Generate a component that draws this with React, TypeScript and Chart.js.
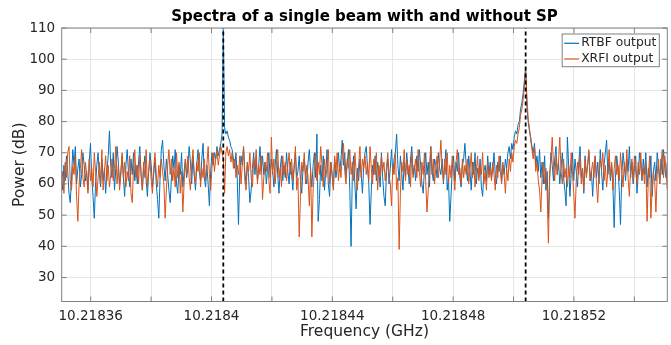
import { useEffect, useRef } from "react";
import { Chart, registerables } from "chart.js";

Chart.register(...registerables);

const chartTitle = "Spectra of a single beam with and without SP";
const xAxisLabel = "Frequency (GHz)";
const yAxisLabel = "Power (dB)";
const seriesLabels = ["RTBF output", "XRFI output"];
const seriesColors = ["#0072BD", "#D95319"];

// frequency grid of the spectrum samples (GHz)
const freqStart = 10.2183503;
const freqStep = 4.188e-7;

const rtbfPower = [
  63, 58, 66, 61, 69, 64, 57, 54, 62, 71, 66, 72, 60, 65, 68, 59, 63, 70, 66, 61,
  64, 58, 67, 73, 62, 56, 49, 60, 66, 70, 63, 59, 68, 61, 65, 57, 64, 69, 77, 66,
  62, 70, 58, 65, 72, 67, 60, 64, 69, 62, 56, 66, 71, 64, 59, 68, 63, 70, 61, 66,
  60, 67, 72, 63, 58, 65, 69, 61, 56, 64, 70, 66, 59, 63, 68, 60, 55, 49, 62, 71,
  74, 66, 61, 68, 63, 58, 54, 62, 69, 65, 71, 60, 57, 66, 63, 70, 59, 64, 68, 62,
  65, 72, 67, 60, 69, 63, 58, 66, 71, 64, 61, 68, 73, 62, 59, 66, 60, 53, 64, 70,
  66, 70, 68, 72, 69, 71, 73, 76, 109.5, 78, 76, 77, 75, 74, 72, 71, 68, 65, 70, 62,
  47, 63, 69, 66, 72, 64, 60, 67, 62, 54, 58, 65, 70, 63, 68, 61, 66, 72, 64, 69,
  63, 67, 60, 65, 70, 62, 68, 64, 59, 66, 71, 63, 57, 65, 69, 61, 66, 62, 70, 64,
  60, 67, 63, 58, 66, 70, 62, 64, 69, 61, 57, 65, 68, 63, 60, 67, 71, 64, 59, 66,
  70, 62, 76, 48, 55, 66, 61, 69, 58, 64, 71, 60, 56, 67, 63, 59, 68, 62, 65, 70,
  64, 68, 74, 66, 70, 62, 67, 71, 58, 40, 63, 69, 60, 52, 65, 61, 68, 63, 57, 66,
  70, 72, 65, 60, 47, 58, 66, 63, 69, 61, 67, 64, 59, 70, 62, 56, 53, 64, 68, 60,
  65, 71, 63, 68, 70, 76, 66, 61, 69, 64, 58, 67, 62, 70, 65, 60, 68, 72, 63, 66,
  61, 69, 64, 71, 66, 60, 57, 65, 70, 63, 67, 59, 72, 64, 61, 68, 66, 62, 70, 65,
  63, 68, 60, 66, 71, 58, 62, 48, 56, 65, 69, 61, 67, 64, 70, 62, 59, 66, 68, 73,
  66, 61, 69, 64, 58, 67, 63, 70, 60, 65, 62, 68, 59, 56, 64, 66, 61, 69, 63, 67,
  62, 65, 70, 63, 60, 67, 64, 69, 61, 66, 63, 68, 65, 70, 72, 68, 73, 71, 75, 77,
  76, 79, 80, 84, 86, 89, 93, 97.5, 85, 80, 77, 75, 72, 70, 73, 66, 69, 64, 71, 62,
  67, 60, 69, 58, 64, 49, 62, 70, 66, 61, 68, 72, 63, 67, 60, 65, 70, 62, 58, 53,
  75, 66, 56, 63, 70, 61, 68, 64, 59, 67, 72, 62, 65, 57, 69, 63, 66, 70, 61, 64,
  56, 65, 69, 62, 67, 60, 71, 64, 58, 66, 70, 74, 63, 68, 61, 66, 59, 46, 62, 69,
  65, 58, 47, 63, 70, 66, 61, 68, 64, 72, 62, 67, 60, 65, 69, 57, 63, 70, 66, 61,
  68, 63, 70, 59, 65, 62, 69, 56, 64, 67, 61, 70, 66, 60, 68, 63, 71, 65, 62, 67,
];

const xrfiPower = [
  60, 64, 57, 67, 62, 70, 72, 61, 58, 66, 63, 69, 56, 48, 60, 65, 71, 62, 59, 67,
  63, 57, 68, 61, 65, 59, 70, 64, 56, 62, 67, 60, 71, 58, 64, 69, 61, 66, 59, 63,
  68, 61, 65, 72, 60, 66, 58, 63, 70, 62, 67, 59, 64, 61, 69, 57, 54, 65, 71, 62,
  66, 60, 69, 63, 58, 67, 62, 71, 59, 64, 68, 61, 57, 65, 70, 63, 59, 66, 62, 68,
  64, 60, 49, 58, 66, 71, 63, 68, 61, 65, 59, 70, 62, 67, 57, 64, 51, 60, 68, 63,
  69, 62, 58, 66, 71, 63, 60, 67, 64, 70, 59, 65, 62, 68, 61, 66, 72, 63, 58, 65,
  70, 64, 68, 71, 66, 69, 72, 70, 68, 57, 70, 72, 69, 71, 67, 70, 65, 68, 62, 66,
  63, 69, 60, 66, 72, 61, 58, 67, 64, 70, 62, 59, 68, 65, 71, 60, 66, 63, 69, 55,
  62, 67, 64, 70, 61, 57, 75, 63, 68, 60, 66, 71, 62, 65, 59, 69, 63, 67, 61, 66,
  70, 63, 68, 61, 65, 72, 58, 62, 43, 56, 67, 64, 70, 60, 66, 62, 53, 65, 43, 58,
  64, 70, 61, 67, 63, 72, 66, 59, 68, 62, 65, 71, 60, 67, 63, 58, 69, 64, 70, 61,
  66, 62, 69, 73, 64, 60, 68, 65, 71, 63, 67, 61, 70, 64, 58, 66, 72, 62, 68, 65,
  69, 63, 67, 61, 72, 65, 60, 68, 63, 70, 58, 66, 62, 69, 64, 67, 61, 65, 70, 63,
  60, 53, 66, 63, 70, 58, 62, 39, 57, 67, 64, 71, 61, 68, 63, 66, 59, 70, 62, 65,
  68, 62, 71, 64, 59, 67, 63, 70, 61, 51, 58, 66, 72, 63, 68, 60, 65, 69, 62, 67,
  74, 65, 61, 68, 63, 70, 60, 66, 62, 69, 64, 58, 67, 71, 63, 65, 60, 68, 62, 66,
  63, 68, 60, 65, 70, 62, 67, 59, 64, 69, 61, 66, 63, 70, 60, 64, 58, 67, 62, 65,
  61, 67, 63, 58, 66, 62, 69, 64, 60, 67, 63, 57, 65, 61, 68, 64, 70, 67, 72, 74,
  73, 76, 78, 82, 84, 87, 91, 96.5, 88, 81, 78, 74, 71, 68, 72, 64, 67, 61, 58, 51,
  62, 67, 60, 65, 57, 41, 63, 68, 75, 66, 61, 69, 63, 67, 75, 64, 60, 68, 62, 65,
  59, 66, 62, 70, 64, 57, 49, 61, 67, 63, 69, 60, 65, 58, 68, 62, 66, 71, 61, 64,
  67, 62, 69, 60, 54, 63, 68, 65, 70, 61, 66, 59, 64, 71, 62, 67, 58, 65, 69, 63,
  66, 61, 70, 64, 59, 67, 63, 71, 62, 56, 65, 68, 61, 69, 64, 60, 67, 63, 70, 62,
  65, 60, 67, 48, 62, 69, 49, 58, 64, 61, 51, 63, 68, 60, 66, 71, 62, 69, 64, 58,
];

// dashed reference lines (GHz)
const markerFreqs = [10.2184039, 10.218504];

const xTickValues = [
  10.21836, 10.21838, 10.2184, 10.21842, 10.21844, 10.21846, 10.21848, 10.2185, 10.21852, 10.21854,
];
const xTickLabels = ["10.21836", "", "10.2184", "", "10.21844", "", "10.21848", "", "10.21852", ""];
const yTickValues = [30, 40, 50, 60, 70, 80, 90, 100, 110];
const xLimits = [10.2183504, 10.2185509];
const yLimits = [22.3, 110];

const FONT = "'DejaVu Sans', 'Liberation Sans', sans-serif";
const TEXT = "#262626";
const GRID = "#e6e6e6";
const AXIS = "#808080";

const toPoints = (vals: number[]) => vals.map((y, i) => ({ x: freqStart + i * freqStep, y }));

const matlabAxesPlugin = {
  id: "matlabAxes",
  afterDraw(chart: any) {
    const { ctx, chartArea } = chart;
    const { left, right, top, bottom } = chartArea;
    const xs = chart.scales.x;
    const ys = chart.scales.y;
    ctx.save();
    // box
    ctx.strokeStyle = AXIS;
    ctx.lineWidth = 1;
    ctx.strokeRect(left, top, right - left, bottom - top);
    // inner tick marks
    const tl = 5;
    ctx.beginPath();
    xTickValues.forEach((v) => {
      const px = xs.getPixelForValue(v);
      ctx.moveTo(px, bottom);
      ctx.lineTo(px, bottom - tl);
      ctx.moveTo(px, top);
      ctx.lineTo(px, top + tl);
    });
    yTickValues.forEach((v) => {
      const py = ys.getPixelForValue(v);
      ctx.moveTo(left, py);
      ctx.lineTo(left + tl, py);
      ctx.moveTo(right, py);
      ctx.lineTo(right - tl, py);
    });
    ctx.stroke();

    // title
    ctx.fillStyle = "#000";
    ctx.font = `bold 15px ${FONT}`;
    ctx.textAlign = "center";
    ctx.textBaseline = "alphabetic";
    ctx.fillText(chartTitle, (left + right) / 2, 20.8);

    // legend
    ctx.font = `12.3px ${FONT}`;
    const textW = Math.max(...seriesLabels.map((s) => ctx.measureText(s).width));
    const boxRight = right - 8;
    const boxTop = top + 6;
    const lineLen = 15;
    const boxW = 2 + lineLen + 2 + textW + 3;
    const rowH = 15.7;
    const boxH = rowH * 2 + 1.3;
    const boxLeft = boxRight - boxW;
    ctx.fillStyle = "#fff";
    ctx.fillRect(boxLeft, boxTop, boxW, boxH);
    ctx.strokeStyle = AXIS;
    ctx.lineWidth = 1;
    ctx.strokeRect(boxLeft, boxTop, boxW, boxH);
    seriesLabels.forEach((label, i) => {
      const cy = boxTop + 9.3 + i * rowH;
      ctx.strokeStyle = seriesColors[i];
      ctx.lineWidth = 1.2;
      ctx.beginPath();
      ctx.moveTo(boxLeft + 2, cy);
      ctx.lineTo(boxLeft + 2 + lineLen, cy);
      ctx.stroke();
      ctx.fillStyle = TEXT;
      ctx.textAlign = "left";
      ctx.textBaseline = "middle";
      ctx.fillText(label, boxLeft + 2 + lineLen + 2, cy);
    });
    ctx.restore();
  },
};

export default function App() {
  const canvasRef = useRef<HTMLCanvasElement | null>(null);

  useEffect(() => {
    const canvas = canvasRef.current;
    if (!canvas) return;
    const chart = new Chart(canvas, {
      type: "line",
      data: {
        datasets: [
          {
            label: seriesLabels[0],
            data: toPoints(rtbfPower),
            borderColor: seriesColors[0],
            backgroundColor: seriesColors[0],
            borderWidth: 1,
            pointRadius: 0,
            tension: 0,
            order: 2,
          },
          {
            label: seriesLabels[1],
            data: toPoints(xrfiPower),
            borderColor: seriesColors[1],
            backgroundColor: seriesColors[1],
            borderWidth: 1,
            pointRadius: 0,
            tension: 0,
            order: 1,
          },
          ...markerFreqs.map((f) => ({
            label: "marker",
            data: [
              { x: f, y: yLimits[0] },
              { x: f, y: yLimits[1] },
            ],
            borderColor: "#000",
            backgroundColor: "#000",
            borderWidth: 1.8,
            borderDash: [4, 3],
            pointRadius: 0,
            order: 0,
          })),
        ],
      },
      options: {
        responsive: false,
        maintainAspectRatio: false,
        animation: false,
        events: [],
        layout: { padding: { top: 28, right: 3.7, bottom: 0, left: 0 } },
        plugins: {
          legend: { display: false },
          tooltip: { enabled: false },
          title: { display: false },
        },
        scales: {
          x: {
            type: "linear",
            min: xLimits[0],
            max: xLimits[1],
            afterBuildTicks: (s: any) => {
              s.ticks = xTickValues.map((v) => ({ value: v }));
            },
            afterFit: (s: any) => {
              s.height = 43.5;
            },
            ticks: {
              autoSkip: false,
              maxRotation: 0,
              padding: 7,
              color: TEXT,
              font: { family: FONT, size: 13.5 },
              callback: (_v: any, i: number) => xTickLabels[i],
            },
            grid: { color: GRID, drawTicks: false, lineWidth: 1 },
            border: { display: false },
            title: {
              display: true,
              text: xAxisLabel,
              color: TEXT,
              font: { family: FONT, size: 15.5 },
              padding: { top: 0, bottom: 3.5 },
            },
          },
          y: {
            type: "linear",
            min: yLimits[0],
            max: yLimits[1],
            afterBuildTicks: (s: any) => {
              s.ticks = yTickValues.map((v) => ({ value: v }));
            },
            afterFit: (s: any) => {
              s.width = 61.7;
            },
            ticks: {
              padding: 6.5,
              color: TEXT,
              font: { family: FONT, size: 13.5 },
              callback: (v: any) => String(v),
            },
            grid: { color: GRID, drawTicks: false, lineWidth: 1 },
            border: { display: false },
            title: {
              display: true,
              text: yAxisLabel,
              color: TEXT,
              font: { family: FONT, size: 15.5 },
              padding: { top: 11, bottom: 0 },
            },
          },
        },
      },
      plugins: [matlabAxesPlugin],
    } as any);
    return () => chart.destroy();
  }, []);

  return (
    <div style={{ position: "fixed", left: 0, top: 0, width: 671, height: 345, background: "#fff" }}>
      <canvas ref={canvasRef} width={671} height={345} style={{ display: "block" }} />
    </div>
  );
}
